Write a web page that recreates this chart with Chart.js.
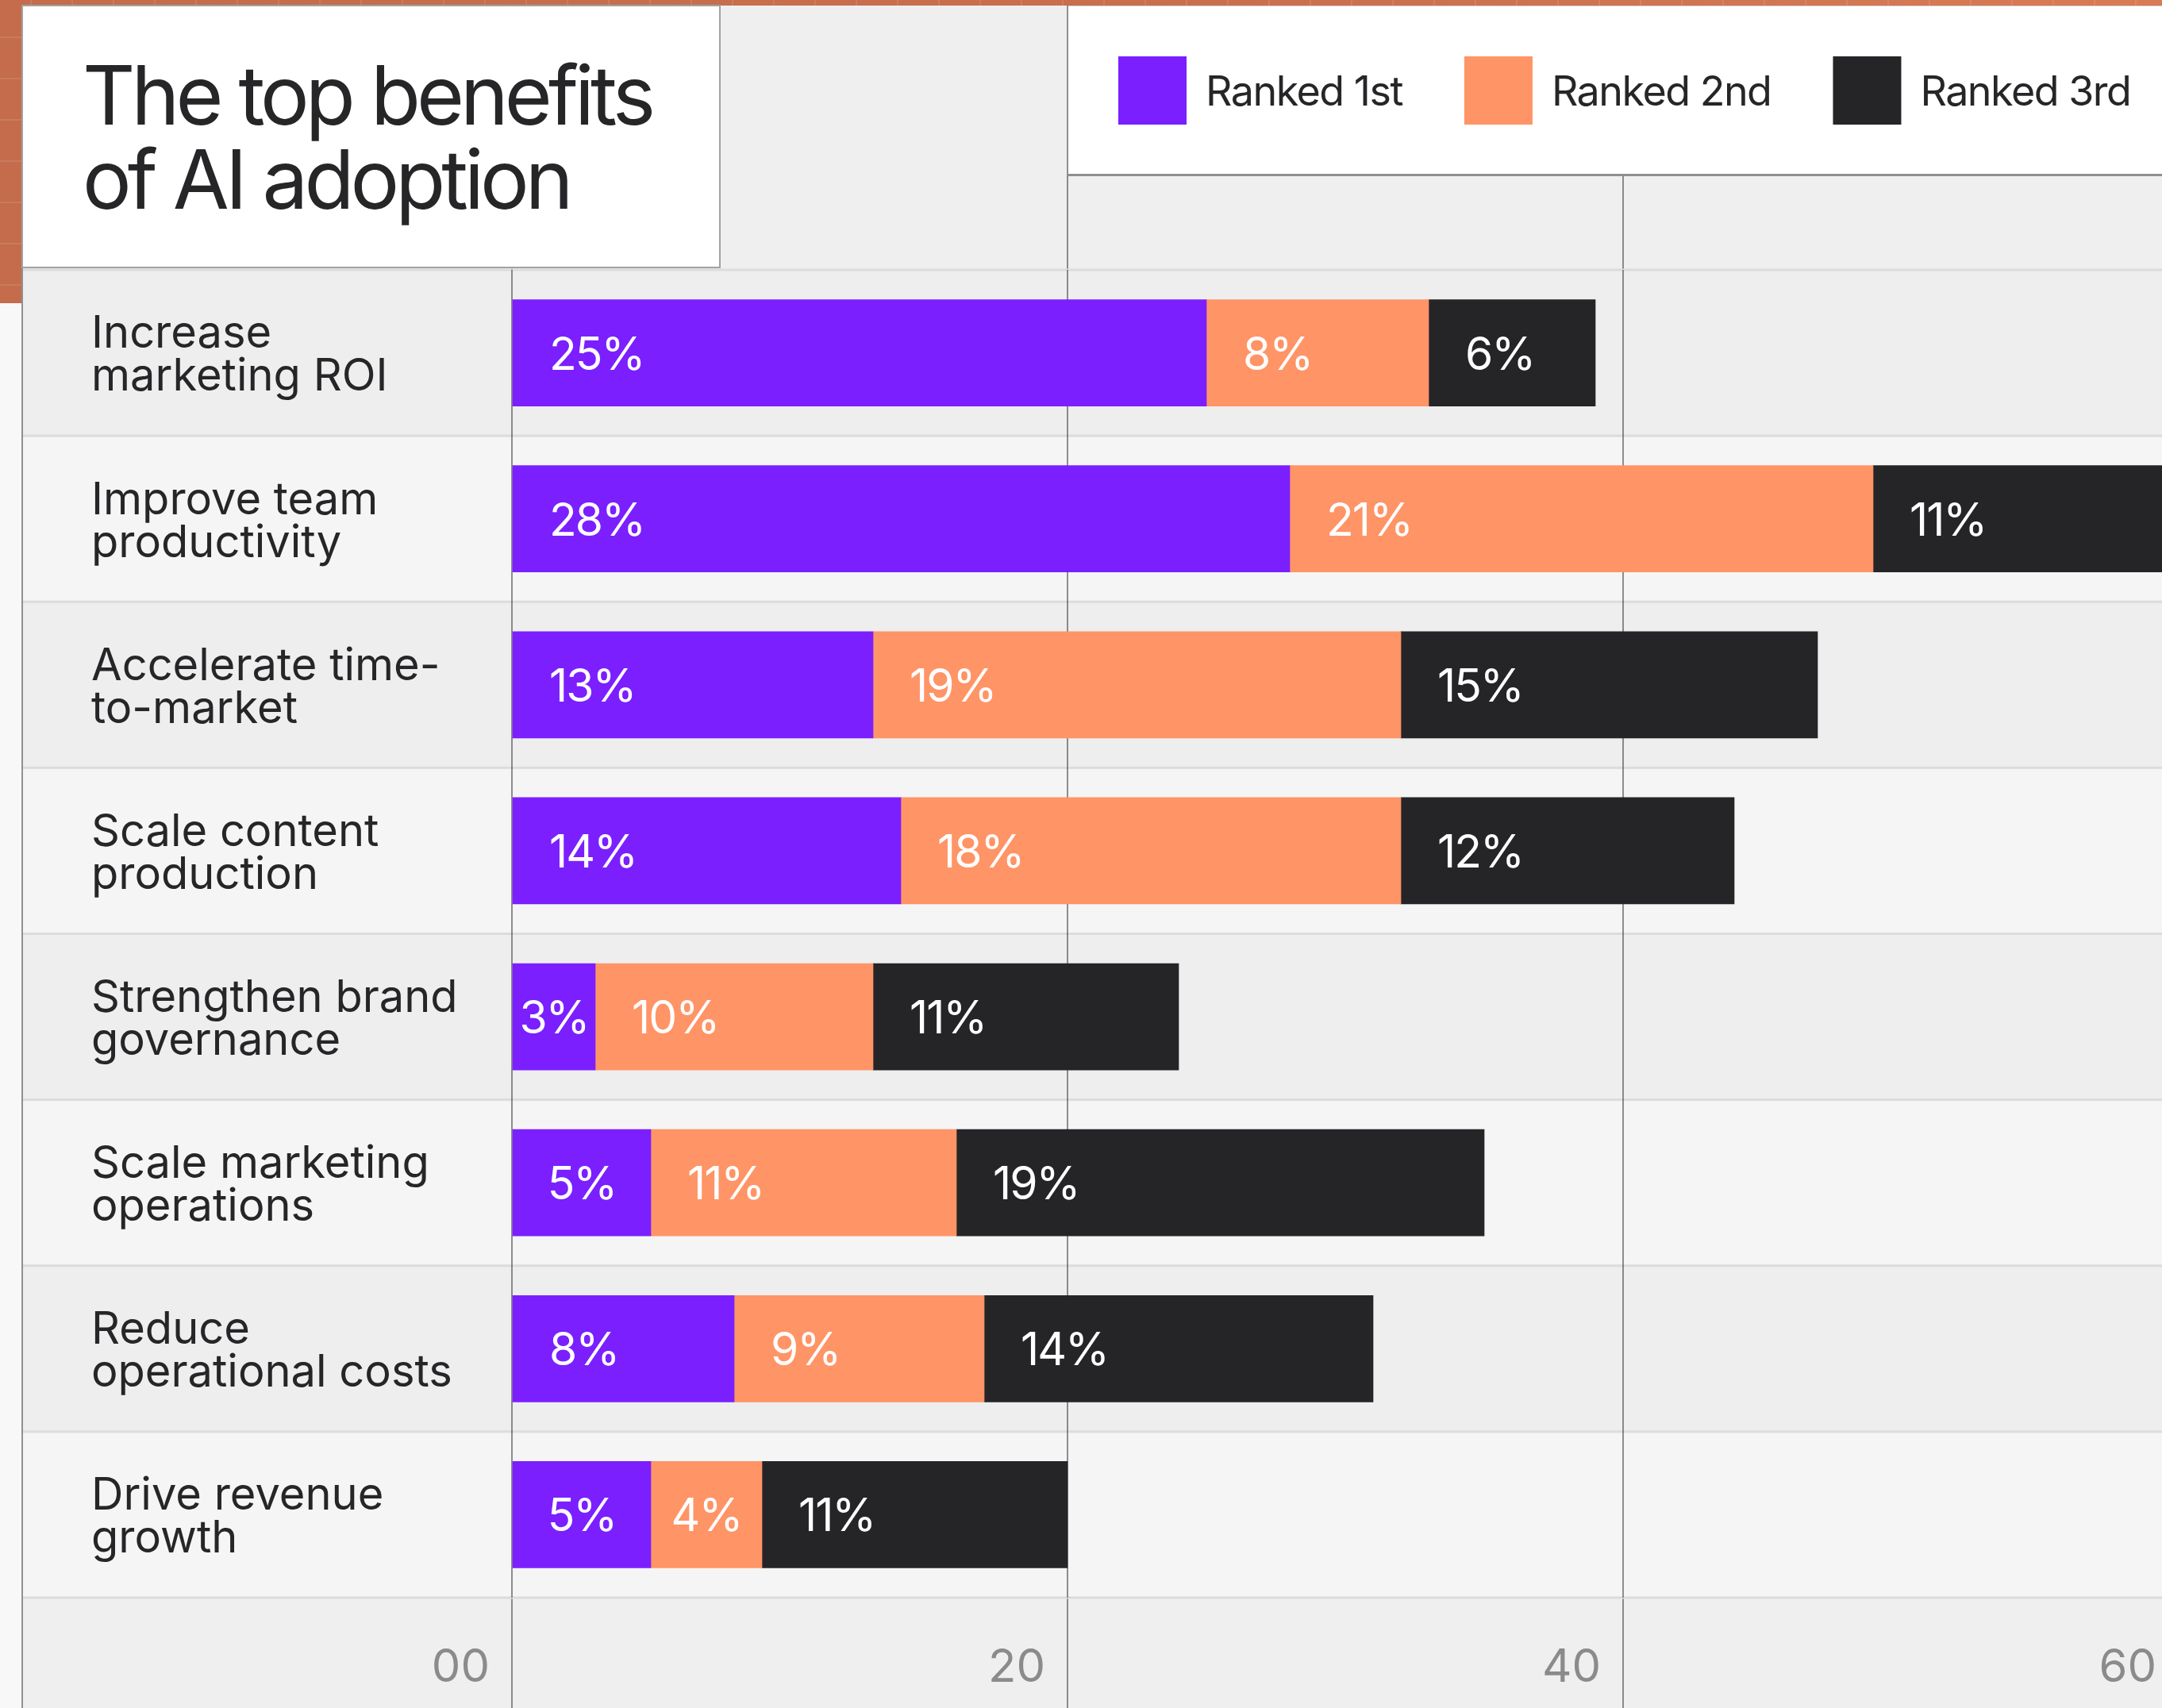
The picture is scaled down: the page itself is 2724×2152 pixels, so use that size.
<!DOCTYPE html>
<html>
<head>
<meta charset="utf-8">
<title>The top benefits of AI adoption</title>
<script src="https://cdn.jsdelivr.net/npm/chart.js@4.4.1/dist/chart.umd.min.js"></script>
<style>
  html, body { margin: 0; padding: 0; overflow: hidden; background: #efeff0; width: 2724px; height: 2152px; }
  #clip { width: 2724px; height: 2152px; overflow: hidden; position: relative; }
  #wrap { width: 2760px; height: 2152px; position: absolute; left: 0; top: 0; }
  canvas { display: block; }
</style>
</head>
<body>
<div id="clip"><div id="wrap"><canvas id="chart" width="2760" height="2152"></canvas></div></div>
<script>
// ---- data ----
const TITLE_LINES = ['The top benefits', 'of AI adoption'];
const CATEGORIES = [
  ['Increase', 'marketing ROI'],
  ['Improve team', 'productivity'],
  ['Accelerate time-', 'to-market'],
  ['Scale content', 'production'],
  ['Strengthen brand', 'governance'],
  ['Scale marketing', 'operations'],
  ['Reduce', 'operational costs'],
  ['Drive revenue', 'growth']
];
const SERIES_NAMES = ['Ranked 1st', 'Ranked 2nd', 'Ranked 3rd'];
const RANKED_1ST = [25, 28, 13, 14, 3, 5, 8, 5];
const RANKED_2ND = [8, 21, 19, 18, 10, 11, 9, 4];
const RANKED_3RD = [6, 11, 15, 12, 11, 19, 14, 11];
const TICK_VALUES = [0, 20, 40, 60];
const TICK_LABELS = ['00', '20', '40', '60'];

// ---- styling ----
const FONT = 'Inter, "Noto Sans", sans-serif';
const COLORS = ['#7b1fff', '#ff9466', '#252527'];
const INK = '#262628';
const GRID = 'rgba(38,38,40,0.5)';
const TOP_EDGE = 7;

// backgrounds, bands, framing boxes, title and legend
const frame = {
  id: 'frame',
  beforeDraw(chart) {
    const { ctx, chartArea: a, scales: { y } } = chart;
    const W = chart.width, H = chart.height;
    ctx.save();
    ctx.fillStyle = '#efeff0';
    ctx.fillRect(0, 0, W, H);

    // outer margin on the left
    ctx.fillStyle = '#f8f8f8';
    ctx.fillRect(0, 0, 28, H);

    // terracotta backdrop peeking out at the top and left
    const og = ctx.createLinearGradient(0, 0, W, 0);
    og.addColorStop(0, '#c46c4b');
    og.addColorStop(0.55, '#c96f4d');
    og.addColorStop(1, '#d97b55');
    ctx.fillStyle = og;
    ctx.fillRect(0, 0, W, TOP_EDGE);
    ctx.fillRect(0, 0, 28, 382);
    ctx.strokeStyle = 'rgba(255,255,255,0.10)';
    ctx.lineWidth = 2;
    for (let yy = 47; yy < 382; yy += 52) {
      ctx.beginPath(); ctx.moveTo(0, yy); ctx.lineTo(28, yy); ctx.stroke();
    }
    for (let xx = 39; xx < W; xx += 52) {
      ctx.beginPath(); ctx.moveTo(xx, 0); ctx.lineTo(xx, TOP_EDGE); ctx.stroke();
    }

    // alternating row bands
    const n = CATEGORIES.length;
    const step = (a.bottom - a.top) / n;
    for (let i = 0; i < n; i++) {
      const c = y.getPixelForValue(i);
      ctx.fillStyle = i % 2 === 0 ? '#eeeeef' : '#f5f5f5';
      ctx.fillRect(28, c - step / 2, W, step);
    }
    ctx.fillStyle = '#dcdcdc';
    for (let i = 0; i <= n; i++) {
      const yy = a.top + i * step;
      ctx.fillRect(28, yy - 1.5, W, 3);
    }

    // left frame line
    ctx.fillStyle = '#909090';
    ctx.fillRect(27, TOP_EDGE, 2, H);
    ctx.restore();
  },
  afterDraw(chart) {
    const { ctx, chartArea: a, scales: { x } } = chart;
    const W = chart.width, H = chart.height;
    ctx.save();

    // value grid lines continue above and below the plot
    ctx.strokeStyle = GRID;
    ctx.lineWidth = 2;
    TICK_VALUES.forEach(v => {
      const px = Math.round(x.getPixelForValue(v));
      ctx.beginPath(); ctx.moveTo(px, TOP_EDGE); ctx.lineTo(px, a.top - 1.5); ctx.stroke();
      ctx.beginPath(); ctx.moveTo(px, a.bottom + 1.5); ctx.lineTo(px, H); ctx.stroke();
    });

    // title card
    const tx0 = 28, tx1 = 907, ty1 = a.top - 3;
    ctx.fillStyle = '#ffffff';
    ctx.fillRect(tx0, TOP_EDGE, tx1 - tx0, ty1 - TOP_EDGE);
    ctx.strokeStyle = '#a2a2a2';
    ctx.lineWidth = 2;
    ctx.strokeRect(tx0, TOP_EDGE, tx1 - tx0, ty1 - TOP_EDGE);
    ctx.fillStyle = INK;
    ctx.font = '400 103px ' + FONT;
    ctx.textAlign = 'left';
    ctx.textBaseline = 'alphabetic';
    ctx.letterSpacing = '-5px';
    ctx.fillText(TITLE_LINES[0], 104, 157);
    ctx.fillText(TITLE_LINES[1], 104, 263);

    // legend card
    const lx0 = Math.round(x.getPixelForValue(20)), ly1 = 220;
    ctx.fillStyle = '#ffffff';
    ctx.fillRect(lx0, TOP_EDGE, W - lx0, ly1 - TOP_EDGE);
    ctx.strokeStyle = '#d0d0d0';
    ctx.lineWidth = 1;
    ctx.beginPath(); ctx.moveTo(lx0, TOP_EDGE + 0.5); ctx.lineTo(W, TOP_EDGE + 0.5); ctx.stroke();
    ctx.fillStyle = '#8f8f8f';
    ctx.fillRect(lx0 - 1, TOP_EDGE, 2, ly1 - TOP_EDGE);
    ctx.fillRect(lx0, ly1 - 1, W - lx0, 3);

    ctx.font = '400 52px ' + FONT;
    ctx.letterSpacing = '-1.5px';
    let lx = lx0 + 64;
    chart.data.datasets.forEach(ds => {
      ctx.fillStyle = ds.backgroundColor;
      ctx.fillRect(lx, 71, 86, 86);
      ctx.fillStyle = INK;
      ctx.fillText(ds.label, lx + 110, 133);
      lx += 110 + ctx.measureText(ds.label).width + 78;
    });
    ctx.restore();
  }
};

// percentage labels inside each bar segment
const segmentLabels = {
  id: 'segmentLabels',
  afterDatasetsDraw(chart) {
    const { ctx, chartArea: a } = chart;
    ctx.save();
    ctx.beginPath();
    ctx.rect(a.left, a.top, a.right - a.left, a.bottom - a.top);
    ctx.clip();
    ctx.font = '400 57px ' + FONT;
    ctx.letterSpacing = '-2px';
    ctx.fillStyle = '#ffffff';
    ctx.textAlign = 'left';
    ctx.textBaseline = 'alphabetic';
    chart.data.datasets.forEach((ds, di) => {
      const meta = chart.getDatasetMeta(di);
      meta.data.forEach((bar, i) => {
        const v = ds.data[i];
        const txt = v + '%';
        const start = Math.min(bar.base, bar.x);
        const w = Math.abs(bar.x - bar.base);
        const tw = ctx.measureText(txt).width;
        const pad = Math.min(46, Math.max(6, (w - tw) / 2));
        ctx.fillText(txt, start + pad, bar.y + 21);
      });
    });
    ctx.restore();
  }
};

const chart = new Chart(document.getElementById('chart'), {
  type: 'bar',
  data: {
    labels: CATEGORIES,
    datasets: [
      { label: SERIES_NAMES[0], data: RANKED_1ST, backgroundColor: COLORS[0] },
      { label: SERIES_NAMES[1], data: RANKED_2ND, backgroundColor: COLORS[1] },
      { label: SERIES_NAMES[2], data: RANKED_3RD, backgroundColor: COLORS[2] }
    ]
  },
  options: {
    indexAxis: 'y',
    responsive: false,
    maintainAspectRatio: false,
    devicePixelRatio: 1,
    animation: false,
    layout: { padding: { left: 115, top: 340, right: 15, bottom: 0 } },
    datasets: { bar: { barThickness: 134, borderWidth: 0 } },
    plugins: {
      legend: { display: false },
      title: { display: false },
      tooltip: { enabled: false }
    },
    scales: {
      x: {
        stacked: true,
        min: 0,
        max: 60,
        z: 1,
        afterBuildTicks: s => { s.ticks = TICK_VALUES.map(v => ({ value: v })); },
        afterFit: s => { s.height = 139; },
        grid: { color: GRID, lineWidth: 2, drawTicks: false },
        border: { display: false },
        ticks: {
          autoSkip: false,
          maxRotation: 0,
          align: 'end',
          labelOffset: -28,
          padding: 0,
          color: '#8b8b8b',
          font: { family: FONT, size: 58, lineHeight: '178px' },
          callback: v => TICK_LABELS[TICK_VALUES.indexOf(v)]
        }
      },
      y: {
        stacked: true,
        afterFit: s => { s.width = 530; },
        grid: { display: false },
        border: { display: false },
        ticks: {
          crossAlign: 'far',
          labelOffset: 4,
          color: INK,
          font: { family: FONT, size: 56, lineHeight: '54px' }
        }
      }
    }
  },
  plugins: [frame, segmentLabels]
});
</script>
</body>
</html>
